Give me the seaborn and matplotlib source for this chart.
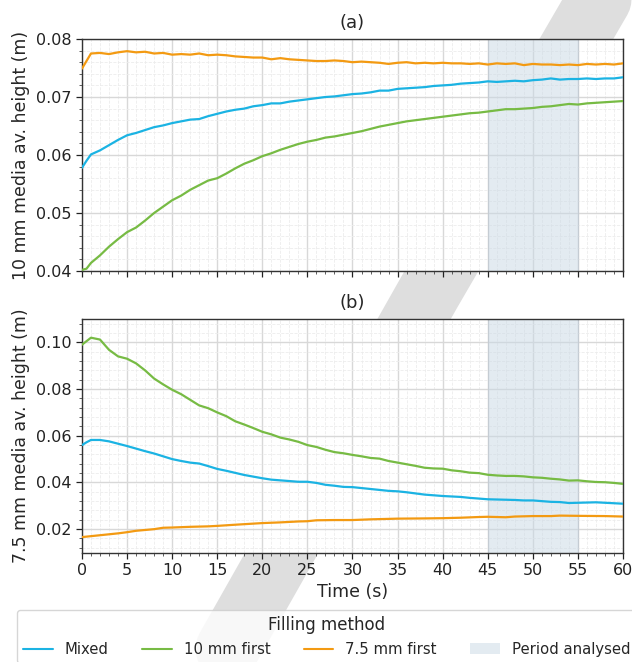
import numpy as np
import pandas as pd
import matplotlib
matplotlib.use("Agg")
import matplotlib.pyplot as plt
from matplotlib.lines import Line2D
from matplotlib.patches import Patch
from matplotlib.ticker import MultipleLocator
import seaborn as sns

# ---- data -------------------------------------------------------------
methods = ["Mixed", "10 mm first", "7.5 mm first"]
colors = {"Mixed": "#1bb3e3", "10 mm first": "#77bb44", "7.5 mm first": "#f39a12"}
period = (45, 55)

t_fine = [0, 0.5] + list(range(1, 61))

# (a) 10 mm media average height (m)
top_mixed = [0.0578, 0.0590, 0.0601, 0.0608, 0.0617, 0.0626, 0.0634, 0.0638, 0.0643, 0.0648,
             0.0651, 0.0655, 0.0658, 0.0661, 0.0662, 0.0667, 0.0671, 0.0675, 0.0678, 0.0680,
             0.0684, 0.0686, 0.0689, 0.0689, 0.0692, 0.0694, 0.0696, 0.0698, 0.0700, 0.0701,
             0.0703, 0.0705, 0.0706, 0.0708, 0.0711, 0.0711, 0.0714, 0.0715, 0.0716, 0.0717,
             0.0719, 0.0720, 0.0721, 0.0723, 0.0724, 0.0725, 0.0727, 0.0726, 0.0727, 0.0728,
             0.0727, 0.0729, 0.0730, 0.0732, 0.0730, 0.0731, 0.0731, 0.0732, 0.0731, 0.0732,
             0.0732, 0.0734]
top_10first = [0.0402, 0.0404, 0.0414, 0.0427, 0.0442, 0.0455, 0.0467, 0.0475, 0.0487, 0.0500,
               0.0511, 0.0522, 0.0530, 0.0540, 0.0548, 0.0556, 0.0560, 0.0568, 0.0577, 0.0585,
               0.0591, 0.0598, 0.0603, 0.0609, 0.0614, 0.0619, 0.0623, 0.0626, 0.0630, 0.0632,
               0.0635, 0.0638, 0.0641, 0.0645, 0.0649, 0.0652, 0.0655, 0.0658, 0.0660, 0.0662,
               0.0664, 0.0666, 0.0668, 0.0670, 0.0672, 0.0673, 0.0675, 0.0677, 0.0679, 0.0679,
               0.0680, 0.0681, 0.0683, 0.0684, 0.0686, 0.0688, 0.0687, 0.0689, 0.0690, 0.0691,
               0.0692, 0.0693]
top_75first = [0.0749, 0.0762, 0.0775, 0.0776, 0.0774, 0.0777, 0.0779, 0.0777, 0.0778, 0.0775,
               0.0776, 0.0773, 0.0774, 0.0773, 0.0775, 0.0772, 0.0773, 0.0772, 0.0770, 0.0769,
               0.0768, 0.0768, 0.0765, 0.0767, 0.0765, 0.0764, 0.0763, 0.0762, 0.0762, 0.0763,
               0.0762, 0.0760, 0.0761, 0.0760, 0.0759, 0.0757, 0.0759, 0.0760, 0.0758, 0.0759,
               0.0758, 0.0759, 0.0758, 0.0758, 0.0757, 0.0758, 0.0756, 0.0758, 0.0757, 0.0758,
               0.0755, 0.0757, 0.0756, 0.0756, 0.0755, 0.0756, 0.0755, 0.0757, 0.0756, 0.0757,
               0.0756, 0.0758]

# (b) 7.5 mm media average height (m)
bot_mixed = [0.0560, 0.0572, 0.0582, 0.0582, 0.0576, 0.0566, 0.0556, 0.0545, 0.0534, 0.0524,
             0.0512, 0.0500, 0.0492, 0.0485, 0.0481, 0.0470, 0.0458, 0.0450, 0.0441, 0.0432,
             0.0425, 0.0418, 0.0412, 0.0409, 0.0406, 0.0403, 0.0403, 0.0398, 0.0390, 0.0386,
             0.0381, 0.0380, 0.0376, 0.0372, 0.0368, 0.0364, 0.0362, 0.0358, 0.0353, 0.0348,
             0.0345, 0.0342, 0.0340, 0.0338, 0.0334, 0.0331, 0.0328, 0.0327, 0.0326, 0.0325,
             0.0323, 0.0323, 0.0320, 0.0317, 0.0316, 0.0312, 0.0313, 0.0314, 0.0315, 0.0313,
             0.0311, 0.0309]
bot_10first = [0.0990, 0.1005, 0.1020, 0.1012, 0.0968, 0.0940, 0.0930, 0.0910, 0.0880, 0.0845,
               0.0820, 0.0797, 0.0778, 0.0754, 0.0730, 0.0718, 0.0700, 0.0684, 0.0662, 0.0648,
               0.0633, 0.0617, 0.0606, 0.0592, 0.0584, 0.0574, 0.0560, 0.0552, 0.0540, 0.0530,
               0.0525, 0.0518, 0.0512, 0.0505, 0.0502, 0.0492, 0.0485, 0.0478, 0.0471, 0.0463,
               0.0460, 0.0459, 0.0452, 0.0448, 0.0442, 0.0440, 0.0433, 0.0430, 0.0428, 0.0428,
               0.0426, 0.0422, 0.0420, 0.0416, 0.0413, 0.0408, 0.0409, 0.0405, 0.0402, 0.0401,
               0.0398, 0.0394]
t_orange_b = [0, 2, 4, 5, 6, 8, 9, 10, 12, 14, 15, 17, 20, 22, 24, 25, 26, 28, 30, 32,
              35, 38, 40, 42, 44, 45, 47, 48, 50, 52, 53, 55, 58, 60]
bot_75first = [0.0166, 0.0174, 0.0182, 0.0187, 0.0193, 0.0200, 0.0206, 0.0207, 0.0210, 0.0212,
               0.0214, 0.0219, 0.0226, 0.0229, 0.0233, 0.0234, 0.0238, 0.0239, 0.0239, 0.0242,
               0.0245, 0.0246, 0.0247, 0.0249, 0.0252, 0.0253, 0.0251, 0.0254, 0.0256, 0.0256,
               0.0258, 0.0257, 0.0256, 0.0254]


def long_frame(pairs):
    parts = []
    for name, t, h in pairs:
        parts.append(pd.DataFrame({"Time": t, "Height": h, "Method": name}))
    return pd.concat(parts, ignore_index=True)


df_top = long_frame([("Mixed", t_fine, top_mixed),
                     ("10 mm first", t_fine, top_10first),
                     ("7.5 mm first", t_fine, top_75first)])
df_bot = long_frame([("Mixed", t_fine, bot_mixed),
                     ("10 mm first", t_fine, bot_10first),
                     ("7.5 mm first", t_orange_b, bot_75first)])

# ---- figure -----------------------------------------------------------
sns.set_style("ticks")
plt.rcParams["font.family"] = ["DejaVu Sans"]

fig = plt.figure(figsize=(6.32, 6.62), dpi=100)

# faint background mark behind the panels
fig.add_artist(Line2D([0.96, 0.68, 0.36], [1.02, 0.56, 0.02], transform=fig.transFigure,
                      color="#dedede", lw=46, solid_capstyle="round", zorder=-5))

ax1 = fig.add_axes([0.1297, 0.5906, 0.8561, 0.3505])
ax2 = fig.add_axes([0.1297, 0.1654, 0.8561, 0.3527])

for ax, df, ylim, ymaj, ymin, ylab, title in [
        (ax1, df_top, (0.04, 0.08), 0.01, 0.002, "10 mm media av. height (m)", "(a)"),
        (ax2, df_bot, (0.01, 0.11), 0.02, 0.004, "7.5 mm media av. height (m)", "(b)")]:
    ax.set_facecolor("white")
    ax.axvspan(*period, facecolor="#c9d8e5", alpha=0.5, edgecolor="#b8c2cc", lw=0.8, zorder=1.5)
    sns.lineplot(data=df, x="Time", y="Height", hue="Method", hue_order=methods,
                 palette=colors, lw=1.6, ax=ax, legend=False, zorder=3)
    ax.set_xlim(0, 60)
    ax.set_ylim(*ylim)
    ax.xaxis.set_major_locator(MultipleLocator(5))
    ax.xaxis.set_minor_locator(MultipleLocator(1))
    ax.yaxis.set_major_locator(MultipleLocator(ymaj))
    ax.yaxis.set_minor_locator(MultipleLocator(ymin))
    ax.grid(which="major", color="#d8d8d8", lw=1.0, zorder=0)
    ax.grid(which="minor", color="#ececec", lw=0.6, ls="--", zorder=0)
    ax.set_axisbelow(True)
    ax.tick_params(which="major", length=4, width=0.9, labelsize=11.5, colors="#222222")
    ax.tick_params(which="minor", length=2, width=0.6, colors="#444444")
    for s in ax.spines.values():
        s.set_color("#333333")
        s.set_linewidth(1.0)
    ax.set_ylabel(ylab, fontsize=12.5)
    ax.set_title(title, fontsize=13, pad=8)

ax1.set_xlabel("")
ax1.tick_params(axis="x", labelbottom=False)
ax2.set_xlabel("Time (s)", fontsize=12.5)
ax2.set_xticks(range(0, 61, 5))
ax2.set_xticklabels([str(v) for v in range(0, 61, 5)])

# ---- legend -----------------------------------------------------------
handles = [Line2D([0], [0], color=colors[m], lw=1.5) for m in methods]
handles.append(Patch(facecolor="#c9d8e5", alpha=0.5, edgecolor="none"))
labels = methods + ["Period analysed"]
leg = fig.legend(handles, labels, title="Filling method", ncol=4,
                 loc="upper left", bbox_to_anchor=(0.027, 0.078),
                 fontsize=10.7, title_fontsize=12, frameon=True,
                 columnspacing=2.25, handlelength=2.0, borderaxespad=0)
leg.get_frame().set_edgecolor("#cccccc")

fig.savefig("out.png", dpi=100)
